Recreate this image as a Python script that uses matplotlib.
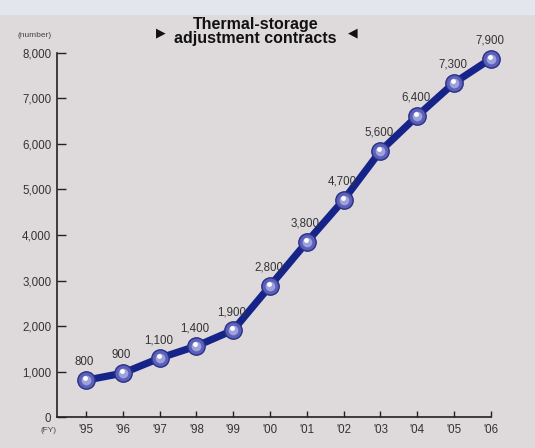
import numpy as np
import matplotlib.pyplot as plt

# data
years = ["'95", "'96", "'97", "'98", "'99", "'00", "'01", "'02", "'03", "'04", "'05", "'06"]
contracts = [810, 965, 1295, 1560, 1910, 2880, 3845, 4770, 5845, 6615, 7340, 7870]
labels = ["800", "900", "1,100", "1,400", "1,900", "2,800", "3,800", "4,700",
          "5,600", "6,400", "7,300", "7,900"]
yticks = [0, 1000, 2000, 3000, 4000, 5000, 6000, 7000, 8000]

plt.rcParams['font.family'] = ['Liberation Sans', 'DejaVu Sans']

bg = '#dedadb'
fig = plt.figure(figsize=(5.35, 4.48), dpi=100, facecolor=bg)
# pale strip along the top edge
fig.patches.append(plt.Rectangle((0, 0.968), 1, 0.032, transform=fig.transFigure,
                                 color='#e3e6ec', zorder=0))

ax = fig.add_axes([0.1065, 0.069, 0.811, 0.813])
ax.set_facecolor(bg)
x = np.arange(len(years))

ax.plot(x, contracts, color='#16248a', lw=5.2, solid_capstyle='round', zorder=3,
        clip_on=False)
ax.plot(x, contracts, 'o', ms=12.5, mfc='#5b60b8', mec='#2a2f86', mew=1.0, zorder=4,
        clip_on=False)
ax.plot(x, contracts, 'o', ms=7, mfc='#9ea2dc', mec='none', zorder=5, clip_on=False)
ax.plot(x - 0.03, np.array(contracts) + 45, 'o', ms=3.5, mfc='white', mec='none',
        zorder=6, clip_on=False)

for xi, yi, lab in zip(x, contracts, labels):
    ax.annotate(lab, (xi, yi), xytext=(-1, 13), textcoords='offset points',
                ha='center', va='center', fontsize=8.3, color='#333333')

ax.set_xlim(-0.79, 11)
ax.set_ylim(0, 8000)
ax.set_xticks(x)
ax.set_xticklabels(years)
ax.set_yticks(yticks)
ax.set_yticklabels([f"{v:,}" for v in yticks])
ax.tick_params(axis='y', direction='in', length=6.5, width=1, pad=4,
               labelsize=8.3, labelcolor='#333333', color='#222222')
ax.tick_params(axis='x', direction='in', length=4.5, width=1, pad=5,
               labelsize=8.3, labelcolor='#333333', color='#222222')
for s in ['top', 'right']:
    ax.spines[s].set_visible(False)
for s in ['left', 'bottom']:
    ax.spines[s].set_color('#222222')
    ax.spines[s].set_linewidth(1.2)

fig.text(0.065, 0.921, '(number)', fontsize=6, color='#444444', ha='center', va='center')
fig.text(0.09, 0.040, '(FY)', fontsize=6, color='#444444', ha='center', va='center')

fig.text(0.478, 0.946, 'Thermal-storage', fontsize=11.5, fontweight='bold',
         ha='center', va='center', color='#111111')
fig.text(0.478, 0.913, 'adjustment contracts', fontsize=11.5, fontweight='bold',
         ha='center', va='center', color='#111111')
fig.text(0.301, 0.927, '\u25b6', fontsize=9, ha='center', va='center', color='#111111',
         family=['DejaVu Sans'])
fig.text(0.660, 0.927, '\u25c0', fontsize=9, ha='center', va='center', color='#111111',
         family=['DejaVu Sans'])

fig.savefig('out.png', dpi=100, facecolor=bg)
